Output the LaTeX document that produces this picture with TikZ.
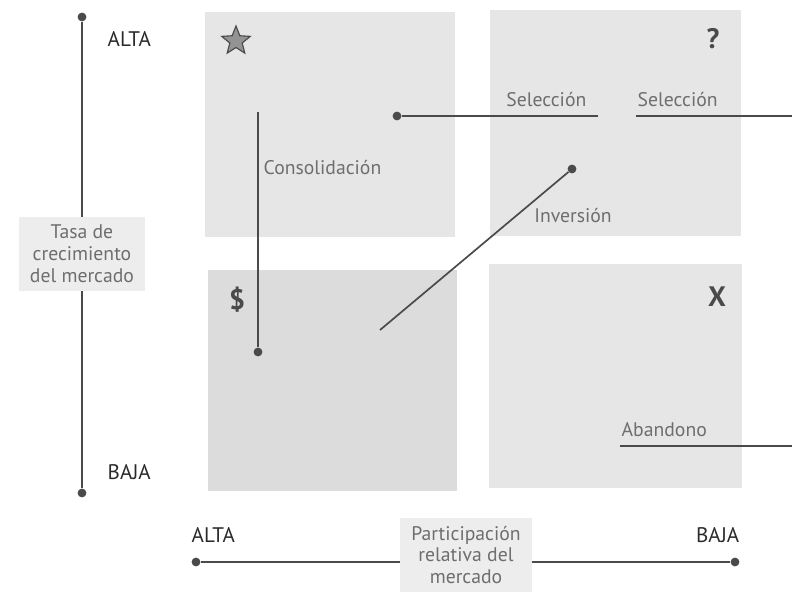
\documentclass[tikz,border=0pt]{standalone}
\usepackage{fontspec}
\setmainfont{PT Sans}
\usepackage{xcolor}
\usepackage{tikz}
\usetikzlibrary{shapes.geometric, positioning}
\definecolor{cuadro}{HTML}{E6E6E6}
\definecolor{cuadroosc}{HTML}{DCDCDC}
\definecolor{linea}{HTML}{4A4A4A}
\definecolor{texto}{HTML}{6E6E6E}
\definecolor{rotulo}{HTML}{2A2A2A}

\begin{document}
\begin{tikzpicture}[x=0.025cm,y=-0.025cm,
    punto/.style={circle, fill=linea, inner sep=0pt, minimum size=2.2mm},
    etiqueta/.style={text=texto, font=\fontsize{14}{16}\selectfont, inner sep=1pt},
    extremo/.style={text=rotulo, font=\fontsize{15}{16}\selectfont, inner sep=1pt},
    simbolo/.style={text=linea, font=\fontsize{20}{20}\selectfont\bfseries, inner sep=0pt},
    caja/.style={fill=gray!14, text=texto, align=center, inner xsep=8pt, inner ysep=6pt,
        font=\fontsize{14}{15.5}\selectfont}]
    \useasboundingbox (0,0) rectangle (792,599);

    % cuadrantes
    \fill[cuadro] (205,12) rectangle (455,237);
    \fill[cuadro] (490,10) rectangle (741,236);
    \fill[cuadroosc] (208,270) rectangle (457,491);
    \fill[cuadro] (489,264) rectangle (742,488);

    % simbolos
    \node[star, star points=5, star point ratio=2.3, draw=linea, fill=gray!85,
        thick, inner sep=0pt, minimum size=7.5mm] (estrella) at (236,41) {};
    \node[simbolo] (pregunta) at (713,39) {?};
    \node[simbolo] (dolar) at (237,300) {\$};
    \node[simbolo] (equis) at (717,297) {X};

    % eje vertical
    \node[punto] (yalta) at (82,17) {};
    \node[punto] (ybaja) at (82,493) {};
    \draw[linea, line width=1.5pt] (yalta) -- (ybaja);
    \node[caja] (tasa) at (82,254) {Tasa de\\crecimiento\\del mercado};
    \node[extremo, anchor=west] (alta1) at (106,39) {ALTA};
    \node[extremo, anchor=west] (baja1) at (106,472) {BAJA};

    % eje horizontal
    \node[punto] (xalta) at (196,562) {};
    \node[punto] (xbaja) at (735,562) {};
    \draw[linea, line width=1.5pt] (xalta) -- (xbaja);
    \node[caja] (particip) at (466,555) {Participación\\relativa del\\mercado};
    \node[extremo, anchor=west] (alta2) at (190,535) {ALTA};
    \node[extremo, anchor=east] (baja2) at (741,535) {BAJA};

    % estrategias
    \node[punto] (cons1) at (258,352) {};
    \coordinate (cons2) at (258,112);
    \draw[linea, line width=1.2pt] (cons1) -- (cons2);
    \node[etiqueta, anchor=west] (consol) at (262,168) {Consolidación};

    \node[punto] (sel1) at (397,116) {};
    \coordinate (sel2) at (598,116);
    \draw[linea, line width=1.3pt] (sel1) -- (sel2);
    \node[etiqueta, anchor=south east] (selA) at (588,108) {Selección};
    \coordinate (sel3) at (636,116);
    \coordinate (sel4) at (792,116);
    \draw[linea, line width=1.3pt] (sel3) -- (sel4);
    \node[etiqueta, anchor=south west] (selB) at (636,108) {Selección};

    \node[punto] (inv1) at (572,169) {};
    \coordinate (inv2) at (380,330);
    \draw[linea, line width=1.2pt] (inv1) -- (inv2);
    \node[etiqueta] (inversion) at (573,216) {Inversión};

    \coordinate (aba1) at (620,446);
    \coordinate (aba2) at (792,446);
    \draw[linea, line width=1.2pt] (aba1) -- (aba2);
    \node[etiqueta, anchor=south west] (abandono) at (620,438) {Abandono};
\end{tikzpicture}
\end{document}
